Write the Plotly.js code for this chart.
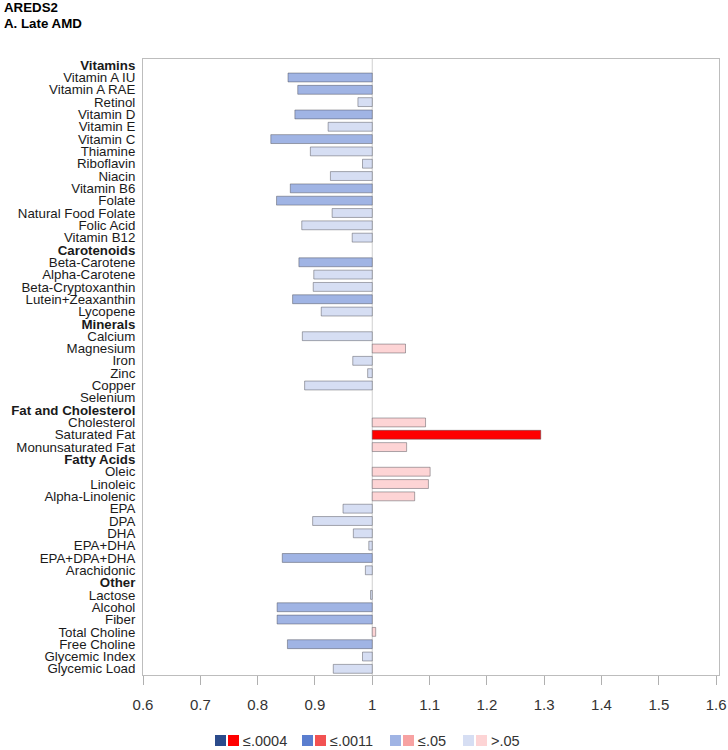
<!DOCTYPE html>
<html>
<head>
<meta charset="utf-8">
<script src="https://cdn.plot.ly/plotly-3.0.1.min.js"></script>
<style>html,body{margin:0;padding:0;background:#fff;}#chart{width:728px;height:750px;}</style>
</head>
<body>
<div id="chart"></div>
<script>
// ---- data ----
const categories = [
  "Vitamins","Vitamin A IU","Vitamin A RAE","Retinol","Vitamin D","Vitamin E","Vitamin C","Thiamine","Riboflavin","Niacin","Vitamin B6","Folate","Natural Food Folate","Folic Acid","Vitamin B12",
  "Carotenoids","Beta-Carotene","Alpha-Carotene","Beta-Cryptoxanthin","Lutein+Zeaxanthin","Lycopene",
  "Minerals","Calcium","Magnesium","Iron","Zinc","Copper","Selenium",
  "Fat and Cholesterol","Cholesterol","Saturated Fat","Monunsaturated Fat",
  "Fatty Acids","Oleic","Linoleic","Alpha-Linolenic","EPA","DPA","DHA","EPA+DHA","EPA+DPA+DHA","Arachidonic",
  "Other","Lactose","Alcohol","Fiber","Total Choline","Free Choline","Glycemic Index","Glycemic Load"
];
const headers = ["Vitamins","Carotenoids","Minerals","Fat and Cholesterol","Fatty Acids","Other"];
const hazardRatio = [
  null,0.853,0.870,0.975,0.865,0.923,0.823,0.892,0.983,0.927,0.857,0.833,0.930,0.877,0.965,
  null,0.872,0.898,0.897,0.861,0.911,
  null,0.878,1.058,0.966,0.992,0.882,1.000,
  null,1.093,1.294,1.060,
  null,1.101,1.098,1.074,0.949,0.896,0.967,0.994,0.843,0.988,
  null,0.997,0.834,0.834,1.006,0.852,0.983,0.932
];
const pLevel = [
  null,"<=.05","<=.05",">.05","<=.05",">.05","<=.05",">.05",">.05",">.05","<=.05","<=.05",">.05",">.05",">.05",
  null,"<=.05",">.05",">.05","<=.05",">.05",
  null,">.05",">.05",">.05",">.05",">.05",">.05",
  null,">.05","<=.0004",">.05",
  null,">.05",">.05",">.05",">.05",">.05",">.05",">.05","<=.05",">.05",
  null,">.05","<=.05","<=.05",">.05","<=.05",">.05",">.05"
];
const legendLabels = ["≤.0004","≤.0011","≤.05",">.05"];
const legendLevels = ["<=.0004","<=.0011","<=.05",">.05"];
const xTicks = [0.6,0.7,0.8,0.9,1.0,1.1,1.2,1.3,1.4,1.5,1.6];

// ---- styles ----
const palette = {
  "<=.0004": {neg:"#2B4B8B", pos:"#FF0000"},
  "<=.0011": {neg:"#5A7ECF", pos:"#F25252"},
  "<=.05":   {neg:"#A0B4E4", pos:"#F7A2A2"},
  ">.05":    {neg:"#D6DEF3", pos:"#FDD4D5"}
};
const FONT = "Liberation Sans, Arial, Helvetica, sans-serif";

const barColors = hazardRatio.map((v,i)=> v==null ? "rgba(0,0,0,0)" : palette[pLevel[i]][v>=1?"pos":"neg"]);
const barLines = hazardRatio.map(v => (v==null || v===1) ? "rgba(0,0,0,0)" : "rgba(70,70,80,0.45)");
const tickText = categories.map(c => headers.includes(c) ? "<b>"+c+"</b>" : c);

// plot area pixels
const L=143, R=719, T=59, B=675;
const px = x => (x-L)/(R-L);
const py = y => (B-y)/(B-T);

const shapes = [{
  type:"line", xref:"x", yref:"paper", x0:1, x1:1, y0:0, y1:1,
  line:{color:"#CFCFCF", width:1}, layer:"below"
}];
const annotations = [
  {text:"<b>AREDS2</b>", xref:"paper", yref:"paper", x:px(2), y:py(8), xanchor:"left", yanchor:"middle", showarrow:false, font:{family:FONT,size:13.3,color:"#000"}},
  {text:"<b>A. Late AMD</b>", xref:"paper", yref:"paper", x:px(2), y:py(24), xanchor:"left", yanchor:"middle", showarrow:false, font:{family:FONT,size:13.3,color:"#000"}}
];
const legendX = [215, 302, 390, 463];
legendLevels.forEach((lv,k)=>{
  const x0 = legendX[k];
  shapes.push({type:"rect", xref:"paper", yref:"paper", x0:px(x0), x1:px(x0+11), y0:py(746), y1:py(735), fillcolor:palette[lv].neg, line:{width:0}});
  shapes.push({type:"rect", xref:"paper", yref:"paper", x0:px(x0+13), x1:px(x0+24), y0:py(746), y1:py(735), fillcolor:palette[lv].pos, line:{width:0}});
  annotations.push({text:legendLabels[k], xref:"paper", yref:"paper", x:px(x0+26), y:py(740.5), xanchor:"left", yanchor:"middle", showarrow:false, font:{family:FONT,size:14.5,color:"#333"}});
});

const trace = {
  type:"bar", orientation:"h",
  y: categories,
  x: hazardRatio.map(v => v==null ? null : v-1),
  base: 1,
  width: 0.72,
  marker:{color:barColors, line:{color:barLines, width:1}},
  hoverinfo:"y+text",
  text: hazardRatio.map(v => v==null ? "" : String(v)),
  textposition:"none",
  showlegend:false
};

const layout = {
  width:728, height:750,
  margin:{l:L, r:728-R, t:T, b:750-B, pad:0},
  paper_bgcolor:"#fff", plot_bgcolor:"#fff",
  showlegend:false,
  font:{family:FONT, color:"#222"},
  xaxis:{
    range:[0.6,1.605], tickvals:xTicks, ticktext:xTicks.map(v=>String(+v.toFixed(1))),
    showgrid:false, zeroline:false,
    showline:true, linecolor:"#BDBDBD", linewidth:1, mirror:true,
    ticks:"outside", ticklen:9, tickcolor:"#B0B0B0", tickwidth:1,
    tickfont:{family:FONT, size:15, color:"#333"}, ticklabelstandoff:7
  },
  yaxis:{
    type:"category", range:[categories.length-0.5, -0.5],
    tickvals:categories, ticktext:tickText,
    showgrid:false, zeroline:false,
    showline:true, linecolor:"#BDBDBD", linewidth:1, mirror:true,
    ticks:"", tickfont:{family:FONT, size:13.3, color:"#1A1A1A"}, ticklabelstandoff:4
  },
  shapes:shapes, annotations:annotations
};

Plotly.newPlot("chart",[trace],layout,{displayModeBar:false, staticPlot:true});
</script>
</body>
</html>
